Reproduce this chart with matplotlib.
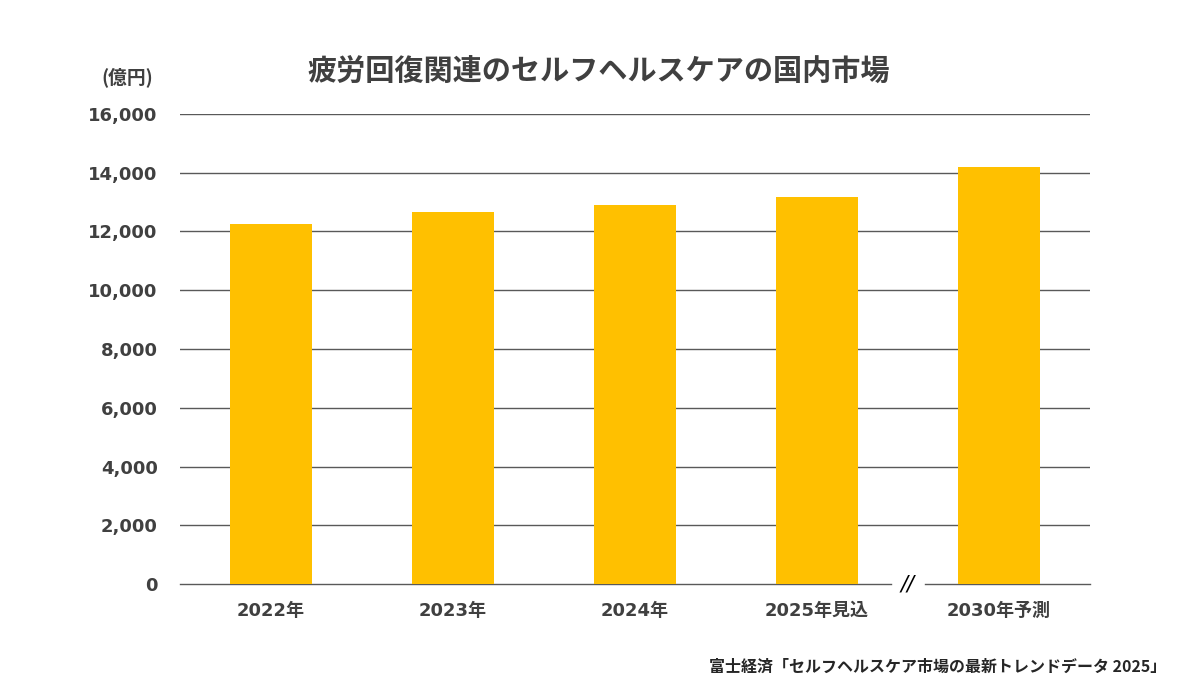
import matplotlib.pyplot as plt

plt.rcParams['font.family'] = ['Noto Sans CJK JP', 'DejaVu Sans']

# data
years = ['2022年', '2023年', '2024年', '2025年見込', '2030年予測']
market = [12250, 12670, 12900, 13170, 14210]
yticks = [0, 2000, 4000, 6000, 8000, 10000, 12000, 14000, 16000]

fig = plt.figure(figsize=(12, 6.95), dpi=100)
ax = fig.add_axes([0.15, 0.1597, 0.7583, 0.6763])

x = list(range(len(years)))
ax.bar(x, market, width=0.45, color='#FFC000', zorder=3)

# grid lines (except zero, which has a break)
for v in yticks[1:]:
    ax.axhline(v, color='#595959', lw=1.0, zorder=1)
gap = 0.095
ax.plot([-0.5, 3.5 - gap], [0, 0], color='#595959', lw=1.0, zorder=2, clip_on=False)
ax.plot([3.5 + gap, 4.5], [0, 0], color='#595959', lw=1.0, zorder=2, clip_on=False)
ax.text(3.5, 0, '//', ha='center', va='center', fontsize=15, color='#000000',
        family='DejaVu Sans', style='italic')

ax.set_xlim(-0.5, 4.5)
ax.set_ylim(0, 16000)
ax.set_yticks(yticks)
ax.set_yticklabels(['{:,}'.format(v) for v in yticks])
ax.set_xticks(x)
ax.set_xticklabels(years)
for s in ax.spines.values():
    s.set_visible(False)
ax.tick_params(length=0, labelsize=13, labelcolor='#404040')
ax.tick_params(axis='y', pad=16)
ax.tick_params(axis='x', pad=13)
for lab in ax.get_xticklabels() + ax.get_yticklabels():
    lab.set_fontweight('bold')
    lab.set_family(['DejaVu Sans', 'Noto Sans CJK JP'])

fig.text(0.499, 0.897, '疲労回復関連のセルフヘルスケアの国内市場', ha='center', va='center',
         fontsize=21, fontweight='bold', color='#404040')
fig.text(0.106, 0.889, '(億円)', ha='center', va='center', fontsize=13.5,
         fontweight='bold', color='#404040')
fig.text(0.9715, 0.041, '富士経済「セルフヘルスケア市場の最新トレンドデータ 2025」', ha='right',
         va='center', fontsize=11.5, fontweight='bold', color='#262626')

fig.savefig('out.png', dpi=100)
